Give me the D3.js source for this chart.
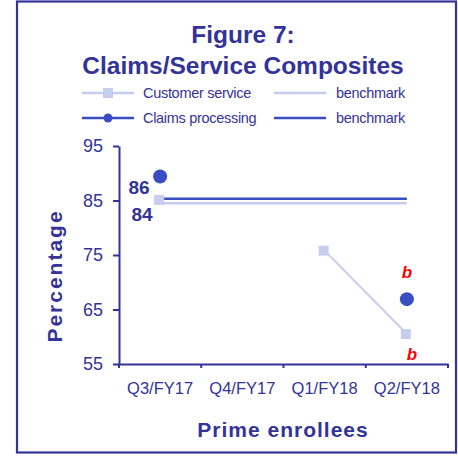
<!DOCTYPE html>
<html>
<head>
<meta charset="utf-8">
<script src="https://cdn.jsdelivr.net/npm/d3@7"></script>
<style>
  body { margin: 0; background: #fff; }
  text { font-family: "Liberation Sans", Arial, sans-serif; }
</style>
</head>
<body>
<div id="chart"></div>
<script>
const categories = ["Q3/FY17", "Q4/FY17", "Q1/FY18", "Q2/FY18"];
const customerService = [85.1, null, 75.8, 60.5];
const claimsProcessing = [89.4, null, null, 66.9];
const customerBenchmark = 84.5;
const claimsBenchmark = 85.3;
const yTicks = [55, 65, 75, 85, 95];
const benchmarkLabels = ["86", "84"];
const significance = ["b", "b"];

const navy = "#333399";
const light = "#c7cdee";
const dark = "#3a4ec4";

const svg = d3.select("#chart")
  .append("svg")
  .attr("width", 458)
  .attr("height", 457);

// outer frame
svg.append("rect")
  .attr("x", 17).attr("y", 1.5)
  .attr("width", 439).attr("height", 451)
  .attr("fill", "none")
  .attr("stroke", navy)
  .attr("stroke-width", 2.2);

// title
svg.append("text")
  .attr("x", 243).attr("y", 42.5)
  .attr("text-anchor", "middle")
  .attr("fill", navy)
  .style("font-size", "24.5px").style("font-weight", "bold")
  .text("Figure 7:");
svg.append("text")
  .attr("x", 243).attr("y", 74)
  .attr("text-anchor", "middle")
  .attr("fill", navy)
  .style("font-size", "24.5px").style("font-weight", "bold")
  .text("Claims/Service Composites");

// legend
const legend = [
  { x: 82, y: 93, color: light, marker: "square", label: "Customer service" },
  { x: 274, y: 93, color: light, marker: null, label: "benchmark" },
  { x: 82, y: 118, color: dark, marker: "circle", label: "Claims processing" },
  { x: 274, y: 118, color: dark, marker: null, label: "benchmark" }
];
legend.forEach(d => {
  const g = svg.append("g").attr("transform", "translate(" + d.x + "," + d.y + ")");
  g.append("line")
    .attr("x1", 0).attr("x2", 52)
    .attr("stroke", d.color).attr("stroke-width", 2.5);
  if (d.marker == "square") {
    g.append("rect").attr("x", 21).attr("y", -5).attr("width", 10).attr("height", 10).attr("fill", d.color);
  } else if (d.marker == "circle") {
    g.append("circle").attr("cx", 26).attr("r", 4.5).attr("fill", d.color);
  }
  g.append("text")
    .attr("x", d.marker ? 61 : 62).attr("y", 5)
    .attr("fill", navy)
    .style("font-size", "14.5px")
    .style("letter-spacing", "-0.3px")
    .text(d.label);
});

// scales
const x = d3.scaleBand().domain(categories).range([119, 448]);
const y = d3.scaleLinear().domain([55, 95]).range([364, 146]);
const cx = d => x(d) + x.bandwidth() / 2;

// y axis
const yAxis = svg.append("g")
  .attr("transform", "translate(119,0)")
  .call(d3.axisLeft(y).tickValues(yTicks).tickSize(6).tickSizeOuter(0).tickPadding(10));
yAxis.select(".domain").attr("stroke", navy).attr("stroke-width", 2);
yAxis.selectAll(".tick line").attr("stroke", navy).attr("stroke-width", 2);
yAxis.selectAll(".tick text")
  .attr("fill", navy)
  .style("font-family", "'Liberation Sans', Arial, sans-serif")
  .style("font-size", "18px");

// x axis
const xAxis = svg.append("g")
  .attr("transform", "translate(0,364)")
  .call(d3.axisBottom(x).tickSize(0).tickSizeOuter(0).tickPadding(18));
xAxis.select(".domain").attr("stroke", navy).attr("stroke-width", 2);
xAxis.selectAll(".tick text")
  .attr("fill", navy)
  .style("font-family", "'Liberation Sans', Arial, sans-serif")
  .style("font-size", "16.5px");
xAxis.selectAll(".boundary")
  .data(categories.map(c => x(c)).concat([x.range()[1]]))
  .enter()
  .append("line")
  .attr("x1", d => d).attr("x2", d => d)
  .attr("y1", 0).attr("y2", 4)
  .attr("stroke", navy).attr("stroke-width", 2);

// axis titles
svg.append("text")
  .attr("transform", "translate(62,276)rotate(-90)")
  .attr("text-anchor", "middle")
  .attr("fill", navy)
  .style("font-size", "21px").style("font-weight", "bold")
  .style("letter-spacing", "2px")
  .text("Percentage");
svg.append("text")
  .attr("x", 283).attr("y", 437)
  .attr("text-anchor", "middle")
  .attr("fill", navy)
  .style("font-size", "21px").style("font-weight", "bold")
  .style("letter-spacing", "1px")
  .text("Prime enrollees");

// benchmark lines
const first = categories[0], last = categories[categories.length - 1];
svg.append("line")
  .attr("x1", cx(first)).attr("x2", cx(last))
  .attr("y1", y(customerBenchmark)).attr("y2", y(customerBenchmark))
  .attr("stroke", light).attr("stroke-width", 2.5);
svg.append("line")
  .attr("x1", cx(first)).attr("x2", cx(last))
  .attr("y1", y(claimsBenchmark)).attr("y2", y(claimsBenchmark))
  .attr("stroke", dark).attr("stroke-width", 2.5);

// customer service series
const csData = categories.map((c, i) => ({ cat: c, value: customerService[i] }));
const line = d3.line()
  .defined(d => d.value != null)
  .x(d => cx(d.cat))
  .y(d => y(d.value));
svg.append("path")
  .datum(csData)
  .attr("d", line)
  .attr("fill", "none")
  .attr("stroke", light)
  .attr("stroke-width", 2);
svg.selectAll(".cs")
  .data(csData.filter(d => d.value != null))
  .enter()
  .append("rect")
  .attr("x", d => cx(d.cat) - 6)
  .attr("y", d => y(d.value) - 5)
  .attr("width", 10).attr("height", 10)
  .attr("fill", light);

// claims processing series
const cpData = categories.map((c, i) => ({ cat: c, value: claimsProcessing[i] }));
svg.append("path")
  .datum(cpData)
  .attr("d", line)
  .attr("fill", "none")
  .attr("stroke", dark)
  .attr("stroke-width", 2);
svg.selectAll(".cp")
  .data(cpData.filter(d => d.value != null))
  .enter()
  .append("circle")
  .attr("cx", d => cx(d.cat))
  .attr("cy", d => y(d.value))
  .attr("r", 7)
  .attr("fill", dark);

// benchmark value labels
svg.append("text")
  .attr("x", cx(first) - 21).attr("y", y(claimsBenchmark) - 5)
  .attr("text-anchor", "middle")
  .attr("fill", navy)
  .style("font-size", "19px").style("font-weight", "bold")
  .text(benchmarkLabels[0]);
svg.append("text")
  .attr("x", cx(first) - 18).attr("y", y(customerBenchmark) + 18)
  .attr("text-anchor", "middle")
  .attr("fill", navy)
  .style("font-size", "19px").style("font-weight", "bold")
  .text(benchmarkLabels[1]);

// significance markers
svg.append("text")
  .attr("x", cx(last)).attr("y", y(claimsProcessing[3]) - 21)
  .attr("text-anchor", "middle")
  .attr("fill", "#ff0000")
  .style("font-size", "17px").style("font-weight", "bold").style("font-style", "italic")
  .text(significance[0]);
svg.append("text")
  .attr("x", cx(last) + 5).attr("y", y(customerService[3]) + 26)
  .attr("text-anchor", "middle")
  .attr("fill", "#ff0000")
  .style("font-size", "17px").style("font-weight", "bold").style("font-style", "italic")
  .text(significance[1]);
</script>
</body>
</html>
